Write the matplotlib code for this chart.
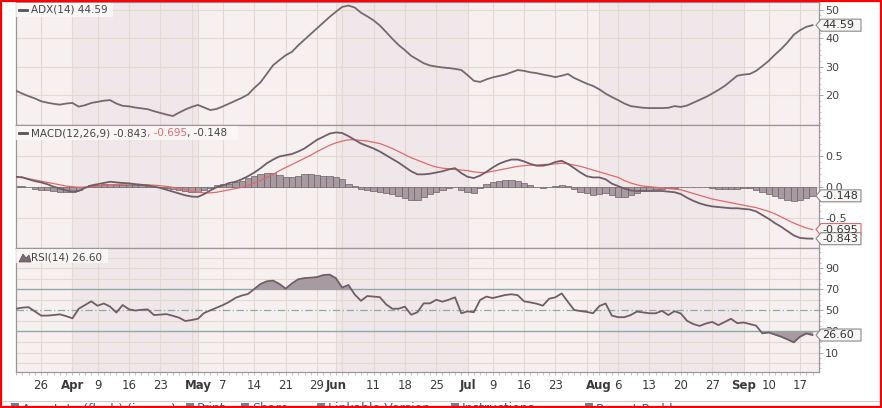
import numpy as np
import pandas as pd
import matplotlib
matplotlib.use("Agg")
import matplotlib.pyplot as plt
from matplotlib.patches import Polygon, Rectangle
from matplotlib.lines import Line2D
from matplotlib.ticker import MultipleLocator, FixedLocator

plt.rcParams['font.family'] = ['DejaVu Sans']
plt.rcParams['axes.unicode_minus'] = False

# ---------------- data ----------------
start_date = '2012-03-20'
end_date = '2012-09-19'
market_holidays = ['2012-04-06', '2012-05-28', '2012-07-04', '2012-09-03']

adx = [
    21.5, 20.5, 19.6, 18.8, 17.8, 17.3, 16.9, 16.6, 17.0, 17.2,
    15.9, 16.4, 17.2, 17.6, 18.0, 18.2, 17.0, 16.2, 16.0, 15.6,
    15.3, 15.0, 14.3, 13.7, 13.1, 12.6, 13.8, 14.9, 15.8, 16.5,
    15.6, 14.7, 15.1, 16.0, 17.0, 18.0, 19.0, 20.2, 22.5, 24.5,
    27.5, 30.5, 32.3, 34.0, 35.2, 37.5, 39.5, 41.5, 43.5, 45.5,
    47.5, 49.3, 51.0, 51.5, 50.8, 49.0, 47.7, 46.3, 44.5, 42.2,
    39.8, 37.6, 35.8, 33.8, 32.5, 31.2, 30.4, 30.0, 29.7, 29.5,
    29.2, 28.8, 27.0, 25.0, 24.6, 25.5, 26.2, 26.7, 27.2, 28.0,
    28.8, 28.5, 28.0, 27.7, 27.2, 26.8, 26.3, 26.8, 27.4, 26.0,
    25.0, 24.0, 23.2, 22.0, 20.5, 19.3, 18.2, 17.0, 16.1, 15.8,
    15.5, 15.4, 15.4, 15.4, 15.5, 16.1, 15.8, 16.3, 17.3, 18.3,
    19.3, 20.5, 21.8, 23.2, 25.0, 26.8, 27.2, 27.4, 28.5, 30.2,
    32.0, 34.2, 36.2, 38.5, 41.2, 42.8, 44.0, 44.59]

macd = [
    0.16, 0.15, 0.12, 0.09, 0.07, 0.04, 0.00, -0.03, -0.06, -0.08,
    -0.07, -0.02, 0.02, 0.04, 0.06, 0.08, 0.07, 0.06, 0.055, 0.04,
    0.03, 0.02, 0.00, -0.02, -0.05, -0.08, -0.11, -0.14, -0.16, -0.165,
    -0.12, -0.06, -0.01, 0.02, 0.06, 0.08, 0.12, 0.17, 0.23, 0.30,
    0.38, 0.44, 0.49, 0.51, 0.53, 0.57, 0.62, 0.69, 0.76, 0.81,
    0.86, 0.88, 0.87, 0.82, 0.76, 0.70, 0.66, 0.62, 0.57, 0.51,
    0.45, 0.39, 0.32, 0.25, 0.20, 0.20, 0.21, 0.23, 0.25, 0.28,
    0.30, 0.22, 0.16, 0.14, 0.18, 0.24, 0.31, 0.37, 0.41, 0.44,
    0.44, 0.41, 0.37, 0.34, 0.34, 0.36, 0.40, 0.42, 0.37, 0.30,
    0.23, 0.17, 0.15, 0.15, 0.12, 0.05, 0.01, -0.03, -0.06, -0.07,
    -0.07, -0.07, -0.07, -0.07, -0.08, -0.09, -0.12, -0.18, -0.23, -0.27,
    -0.30, -0.32, -0.33, -0.34, -0.35, -0.35, -0.36, -0.37, -0.40, -0.46,
    -0.52, -0.59, -0.65, -0.72, -0.79, -0.83, -0.84, -0.843]

signal = [
    0.16, 0.155, 0.13, 0.11, 0.09, 0.07, 0.05, 0.03, 0.01, 0.0,
    -0.01, -0.005, 0.0, 0.01, 0.02, 0.03, 0.035, 0.04, 0.04, 0.04,
    0.035, 0.03, 0.025, 0.015, 0.005, -0.01, -0.03, -0.05, -0.07, -0.09,
    -0.10, -0.10, -0.09, -0.07, -0.05, -0.03, -0.01, 0.02, 0.06, 0.10,
    0.15, 0.20, 0.26, 0.31, 0.36, 0.41, 0.46, 0.51, 0.57, 0.62,
    0.67, 0.71, 0.74, 0.76, 0.76, 0.75, 0.74, 0.72, 0.70, 0.66,
    0.62, 0.57, 0.52, 0.47, 0.43, 0.39, 0.35, 0.32, 0.30, 0.29,
    0.28, 0.27, 0.26, 0.24, 0.23, 0.23, 0.25, 0.27, 0.29, 0.31,
    0.33, 0.34, 0.35, 0.35, 0.36, 0.36, 0.37, 0.38, 0.37, 0.35,
    0.33, 0.30, 0.27, 0.24, 0.21, 0.18, 0.15, 0.10, 0.06, 0.03,
    0.01, 0.0, -0.01, -0.02, -0.03, -0.04, -0.05, -0.08, -0.11, -0.14,
    -0.17, -0.20, -0.22, -0.24, -0.26, -0.28, -0.30, -0.32, -0.34, -0.37,
    -0.40, -0.44, -0.49, -0.54, -0.59, -0.63, -0.67, -0.695]

histogram = [
    0.01, 0.01, 0.0, -0.03, -0.05, -0.06, -0.07, -0.08, -0.08, -0.08,
    -0.05, -0.01, 0.02, 0.03, 0.04, 0.04, 0.03, 0.03, 0.02, 0.02,
    0.02, 0.01, 0.0, -0.01, -0.02, -0.03, -0.05, -0.07, -0.08, -0.08,
    -0.05, -0.02, 0.03, 0.04, 0.05, 0.07, 0.10, 0.14, 0.17, 0.21,
    0.22, 0.22, 0.19, 0.16, 0.16, 0.18, 0.20, 0.20, 0.19, 0.18,
    0.18, 0.16, 0.12, 0.05, 0.01, -0.04, -0.06, -0.07, -0.08, -0.10,
    -0.12, -0.15, -0.19, -0.21, -0.21, -0.17, -0.12, -0.08, -0.05, -0.02,
    0.0, -0.05, -0.08, -0.10, -0.02, 0.04, 0.07, 0.10, 0.11, 0.11,
    0.09, 0.06, 0.02, -0.01, -0.02, -0.01, 0.01, 0.03, 0.01, -0.04,
    -0.08, -0.11, -0.13, -0.12, -0.10, -0.13, -0.16, -0.16, -0.13, -0.10,
    -0.07, -0.05, -0.04, -0.03, -0.02, -0.02, -0.01, -0.01, 0.0, -0.01,
    -0.01, -0.02, -0.03, -0.04, -0.04, -0.03, -0.02, -0.02, -0.05, -0.09,
    -0.12, -0.15, -0.18, -0.21, -0.23, -0.21, -0.18, -0.148]

rsi = [
    51.5, 52.5, 53.0, 49.0, 45.0, 45.0, 45.5, 46.2, 44.5, 42.4,
    51.5, 55.0, 58.5, 54.3, 56.5, 53.5, 47.9, 55.0, 51.0, 49.8,
    50.5, 50.9, 45.5, 46.0, 46.4, 44.8, 43.0, 39.9, 40.8, 42.0,
    47.5, 50.0, 52.5, 55.0, 58.0, 61.8, 64.0, 65.5, 70.3, 75.0,
    77.5, 78.1, 75.0, 70.5, 75.5, 79.4, 80.5, 80.9, 81.5, 83.4,
    83.8, 80.5, 71.5, 74.0, 65.0, 59.0, 63.5, 63.0, 62.5, 55.7,
    51.5, 51.5, 53.5, 45.8, 48.2, 56.6, 56.6, 60.0, 58.2, 60.0,
    62.3, 47.2, 49.0, 48.2, 59.8, 63.0, 61.6, 63.0, 64.5, 65.2,
    64.3, 58.5, 57.5, 56.3, 54.4, 61.0, 62.3, 66.0, 58.0, 50.3,
    49.3, 48.5, 47.2, 54.0, 56.5, 45.0, 43.5, 43.5, 45.5, 48.8,
    48.0, 47.2, 47.2, 49.5, 45.5, 49.2, 47.0, 40.0, 37.0, 35.2,
    37.5, 39.0, 36.0, 39.0, 42.0, 37.8, 38.5, 37.0, 35.5, 28.2,
    29.0, 27.0, 25.0, 22.5, 19.7, 25.0, 28.0, 26.6]

tick_dates = ['2012-03-26', '2012-04-02', '2012-04-09', '2012-04-16', '2012-04-23',
              '2012-05-01', '2012-05-07', '2012-05-14', '2012-05-21', '2012-05-29',
              '2012-06-01', '2012-06-11', '2012-06-18', '2012-06-25', '2012-07-02',
              '2012-07-09', '2012-07-16', '2012-07-23', '2012-08-01', '2012-08-06',
              '2012-08-13', '2012-08-20', '2012-08-27', '2012-09-04', '2012-09-10',
              '2012-09-17']
tick_labels = ['26', 'Apr', '9', '16', '23', 'May', '7', '14', '21', '29', 'Jun',
               '11', '18', '25', 'Jul', '9', '16', '23', 'Aug', '6', '13', '20',
               '27', 'Sep', '10', '17']
month_labels = ['Apr', 'May', 'Jun', 'Jul', 'Aug', 'Sep']
shaded_months = [('2012-04-02', '2012-05-01'), ('2012-06-01', '2012-07-02'),
                 ('2012-08-01', '2012-09-04')]

adx_label = 'ADX(14) 44.59'
macd_parts = ['MACD(12,26,9) -0.843', ', -0.695', ', -0.148']
rsi_label = 'RSI(14) 26.60'
toolbar_items = ['Annotate (flash) (image)', 'Print', 'Share', 'Linkable Version',
                 'Instructions', 'Report Problem']

# ---------------- setup ----------------
dates = pd.bdate_range(start_date, end_date)
dates = dates[~dates.isin(pd.to_datetime(market_holidays))]
n = len(dates)
x = np.arange(n)
pos = {d.strftime('%Y-%m-%d'): i for i, d in enumerate(dates)}

adx = np.array(adx); macd = np.array(macd); signal = np.array(signal)
histogram = np.array(histogram); rsi = np.array(rsi)

week_idx = [i for i in range(1, n) if dates[i].weekday() < dates[i - 1].weekday()]
month_idx = [i for i in range(1, n) if dates[i].month != dates[i - 1].month]

W, H = 882, 408
fig = plt.figure(figsize=(W / 100, H / 100), dpi=100)
fig.patch.set_facecolor('white')

BG = '#f7f0f1'
BAND = '#efe7e9'
GRID = '#e4d9cf'
SPINE = '#9d9597'
LINE = '#6f5e67'
RED = '#e06a6a'
TEAL = '#8fa9a6'
FILL = '#a79aa0'
XMAX = 128.03


def make_ax(top, bottom):
    ax = fig.add_axes([16 / W, (H - bottom) / H, 803 / W, (bottom - top) / H])
    ax.set_facecolor(BG)
    ax.set_xlim(0, XMAX)
    for a, b in shaded_months:
        ax.axvspan(pos[a], pos[b], color=BAND, lw=0, zorder=0)
    for g in sorted(set(week_idx + month_idx)):
        ax.axvline(g, color=GRID, lw=0.8, zorder=0.5)
    for s in ax.spines.values():
        s.set_color(SPINE)
        s.set_linewidth(0.9)
    ax.yaxis.tick_right()
    ax.tick_params(axis='x', which='both', bottom=False, labelbottom=False)
    ax.tick_params(axis='y', which='major', length=3, width=0.6, color='#999999',
                   labelsize=8, labelcolor='#444444', pad=1.5)
    ax.tick_params(axis='y', which='minor', length=1.5, width=0.5, color='#b5b5b5')
    return ax


# ADX panel
ax1 = make_ax(2, 125)
ax1.set_ylim(9.44, 52.75)
for v in [20, 30, 40, 50]:
    ax1.axhline(v, color=GRID, lw=0.8, zorder=0.5)
ax1.plot(x, adx, color='#776870', lw=1.3, zorder=3)
ax1.set_yticks([20, 30, 40, 50])
ax1.set_yticklabels(['20', '30', '40', '50'])
ax1.yaxis.set_minor_locator(MultipleLocator(2))

# MACD panel
ax2 = make_ax(125, 248)
ax2.set_ylim(-0.994, 1.0)
for v in [-0.5, 0.0, 0.5]:
    ax2.axhline(v, color=GRID, lw=0.8, zorder=0.5)
ax2.bar(x, histogram, width=1.0, color=FILL, edgecolor='#6e5f67', linewidth=0.5, zorder=2)
ax2.plot(x, signal, color=RED, lw=0.9, zorder=3)
ax2.plot(x, macd, color=LINE, lw=1.3, zorder=4)
ax2.set_yticks([-0.5, 0.0, 0.5])
ax2.set_yticklabels(['-0.5', '0.0', '0.5'])
ax2.yaxis.set_minor_locator(MultipleLocator(0.1))

# RSI panel
ax3 = make_ax(248, 372)
ax3.set_ylim(-8.4, 109.0)
for v in range(0, 101, 10):
    if v not in (30, 50, 70):
        ax3.axhline(v, color=GRID, lw=0.8, zorder=0.5)
ax3.axhline(70, color=TEAL, lw=1.0, zorder=1)
ax3.axhline(30, color=TEAL, lw=1.0, zorder=1)
ax3.axhline(50, color=TEAL, lw=0.9, ls=(0, (6, 2, 1, 2)), zorder=1)
ax3.fill_between(x, rsi, 70, where=rsi >= 70, interpolate=True, color=FILL, lw=0, zorder=2)
ax3.fill_between(x, rsi, 30, where=rsi <= 30, interpolate=True, color=FILL, lw=0, zorder=2)
ax3.plot(x, rsi, color=LINE, lw=1.3, zorder=3)
ax3.set_yticks([10, 30, 50, 70, 90])
ax3.set_yticklabels(['10', '30', '50', '70', '90'])
ax3.yaxis.set_minor_locator(MultipleLocator(5))

tick_pos = [pos[d] for d in tick_dates]
ax3.set_xticks(tick_pos)
ax3.set_xticklabels(tick_labels)
ax3.xaxis.set_minor_locator(FixedLocator(x))
ax3.tick_params(axis='x', which='major', bottom=True, labelbottom=True, length=2.5,
                width=0.5, color='#aaaaaa', labelsize=8.5, labelcolor='#3a3a3a', pad=2.5)
ax3.tick_params(axis='x', which='minor', bottom=True, length=2, width=0.5, color='#b0b0b0')
for lab in ax3.get_xticklabels():
    if lab.get_text() in month_labels:
        lab.set_fontweight('bold')


# ---------------- value tags on the right ----------------
def tag(ax, val, text, ec):
    _, yd = ax.transData.transform((0, val))
    yf = yd / H
    h = 6.0 / H
    pts = [(816 / W, yf), (821 / W, yf + h), (861 / W, yf + h), (861 / W, yf - h), (821 / W, yf - h)]
    fig.add_artist(Polygon(pts, closed=True, transform=fig.transFigure, fc='#f8f5f5',
                           ec=ec, lw=0.8, zorder=10))
    fig.text(822.5 / W, yf, text, va='center', ha='left', fontsize=8, color='#333333', zorder=11)


tag(ax1, adx[-1], '44.59', '#8a8a8a')
tag(ax2, histogram[-1], '-0.148', '#8a8a8a')
tag(ax2, signal[-1], '-0.695', RED)
tag(ax2, macd[-1], '-0.843', '#8a8a8a')
tag(ax3, rsi[-1], '26.60', '#8a8a8a')

# ---------------- legends in panels ----------------
for (x0, y0, x1, y1) in [(16, 3, 113, 17), (16, 126, 238, 140), (16, 249, 108, 263)]:
    fig.add_artist(Rectangle((x0 / W, 1 - y1 / H), (x1 - x0) / W, (y1 - y0) / H,
                             transform=fig.transFigure, fc='#fbf8f8', ec='none',
                             alpha=0.85, zorder=5))

fig.add_artist(Line2D([19 / W, 27 / W], [1 - 10 / H, 1 - 10 / H], color='#555555', lw=2.0, zorder=6))
fig.text(31 / W, 1 - 10 / H, adx_label, fontsize=7.5, color='#444444', va='center', ha='left', zorder=6)

fig.add_artist(Line2D([19 / W, 27 / W], [1 - 133 / H, 1 - 133 / H], color='#555555', lw=2.0, zorder=6))
t = fig.text(31 / W, 1 - 133 / H, macd_parts[0], fontsize=7.5, color='#444444', va='center', ha='left', zorder=6)
t2 = fig.text(0, 0, macd_parts[1], fontsize=7.5, color=RED, va='center', ha='left', zorder=6)
t3 = fig.text(0, 0, macd_parts[2], fontsize=7.5, color='#444444', va='center', ha='left', zorder=6)
renderer = fig.canvas.get_renderer()
bb = t.get_window_extent(renderer)
t2.set_position((bb.x1 / W, 1 - 133 / H))
bb2 = t2.get_window_extent(renderer)
t3.set_position((bb2.x1 / W, 1 - 133 / H))

icon = [(19 / W, 1 - 262 / H), (23 / W, 1 - 254 / H), (26 / W, 1 - 258 / H),
        (29 / W, 1 - 255 / H), (31 / W, 1 - 262 / H)]
fig.add_artist(Polygon(icon, closed=True, transform=fig.transFigure, fc='#7a6b73', ec='#5a4b53', lw=0.5, zorder=6))
fig.text(31 / W, 1 - 257 / H, rsi_label, fontsize=7.5, color='#444444', va='center', ha='left', zorder=6)

# ---------------- bottom toolbar (cut off) ----------------
fig.add_artist(Line2D([0, 1], [1 - 400.5 / H, 1 - 400.5 / H], color='#cfcfcf', lw=0.8, zorder=5))
tb_x = [22, 197, 252, 328, 462, 596]
for tx, item in zip(tb_x, toolbar_items):
    fig.add_artist(Rectangle(((tx - 11) / W, 1 - 412 / H), 8 / W, 9 / H, transform=fig.transFigure,
                             fc='#6f7f9a', ec='none', zorder=5))
    fig.text(tx / W, 1 - 402.5 / H, item, fontsize=9, color='#2c5fb0', va='top', ha='left', zorder=5)

# red frame
fig.add_artist(Rectangle((1 / W, 1 / H), (W - 2.5) / W, (H - 2) / H, transform=fig.transFigure,
                         fill=False, ec='#ff0000', lw=1.6, zorder=20))

fig.savefig('out.png', dpi=100, facecolor='white')
